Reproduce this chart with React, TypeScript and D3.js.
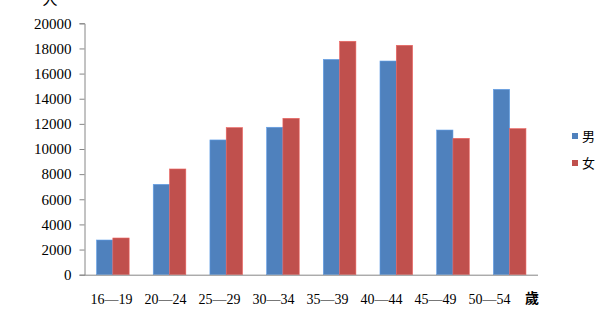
import React, { useEffect, useRef } from "react";
import * as d3 from "d3";

const ageGroups = ["16—19", "20—24", "25—29", "30—34", "35—39", "40—44", "45—49", "50—54"];
const maleValues = [2760, 7190, 10720, 11730, 17130, 17000, 11510, 14750];
const femaleValues = [2920, 8410, 11700, 12440, 18570, 18250, 10850, 11620];
const seriesNames = ["男", "女"];
const seriesColors = ["#4F81BD", "#C0504D"];
const yTicks = [0, 2000, 4000, 6000, 8000, 10000, 12000, 14000, 16000, 18000, 20000];

const W = 609;
const H = 336;

export default function App() {
    const svgRef = useRef<SVGSVGElement>(null);

    useEffect(() => {
        const svg = d3.select(svgRef.current);
        svg.selectAll("*").remove();

        const left = 84.5, right = 538, top = 23.3, bottom = 274.7;
        const serif = "'Liberation Serif', 'DejaVu Serif', serif";
        const cjk = "'Noto Sans CJK SC', 'Noto Sans CJK JP', sans-serif";

        const x = d3.scaleBand<string>()
            .domain(ageGroups)
            .range([left, right])
            .paddingInner(0.425)
            .paddingOuter(0.2125);
        const sub = d3.scaleBand<string>()
            .domain(seriesNames)
            .range([0, x.bandwidth()]);
        const y = d3.scaleLinear().domain([0, 20000]).range([bottom, top]);
        // the category labels sit in their own row, a bit tighter than the bars
        const xLabel = d3.scalePoint<string>().domain(ageGroups).range([111.6, 489.5]);

        // y axis
        const yAxis = d3.axisLeft(y).tickValues(yTicks).tickSize(5).tickPadding(8).tickFormat(d3.format("d"));
        const yg = svg.append("g").attr("transform", `translate(${left},0)`).call(yAxis);
        yg.select(".domain").attr("stroke", "#868686");
        yg.selectAll("line").attr("stroke", "#868686");
        yg.selectAll("text")
            .attr("font-family", serif)
            .attr("font-size", 15)
            .attr("fill", "#000");

        // bars
        const data = [maleValues, femaleValues];
        data.forEach((vals, si) => {
            svg.append("g")
                .selectAll("rect")
                .data(vals)
                .enter().append("rect")
                .attr("x", (d, i) => (x(ageGroups[i]) as number) + (sub(seriesNames[si]) as number))
                .attr("y", d => y(d))
                .attr("width", sub.bandwidth())
                .attr("height", d => bottom - y(d))
                .attr("fill", seriesColors[si])
                .attr("stroke", d3.color(seriesColors[si])!.brighter(0.6).toString())
                .attr("stroke-width", 0.6);
        });

        // x axis line
        svg.append("line")
            .attr("x1", left).attr("x2", right)
            .attr("y1", bottom + 0.5).attr("y2", bottom + 0.5)
            .attr("stroke", "#868686");

        // x labels
        svg.append("g")
            .selectAll("text")
            .data(ageGroups)
            .enter().append("text")
            .attr("x", d => xLabel(d) as number)
            .attr("y", 304)
            .attr("text-anchor", "middle")
            .attr("font-family", serif)
            .attr("font-size", 14)
            .text(d => d);

        svg.append("text")
            .attr("x", 532).attr("y", 303)
            .attr("text-anchor", "middle")
            .attr("font-family", cjk)
            .attr("font-weight", "bold")
            .attr("font-size", 14)
            .text("歲");

        svg.append("text")
            .attr("x", 50).attr("y", 5)
            .attr("text-anchor", "middle")
            .attr("font-family", cjk)
            .attr("font-size", 15)
            .text("人");

        // legend
        const leg = svg.append("g");
        seriesNames.forEach((name, i) => {
            const cy = 136 + i * 27;
            leg.append("rect")
                .attr("x", 572).attr("y", cy - 3)
                .attr("width", 6).attr("height", 6)
                .attr("fill", seriesColors[i]);
            leg.append("text")
                .attr("x", 582).attr("y", cy + 5)
                .attr("font-family", cjk)
                .attr("font-size", 13)
                .text(name);
        });
    }, []);

    return (
        <svg
            ref={svgRef}
            width={W}
            height={H}
            style={{ position: "absolute", left: 0, top: 0, background: "#fff" }}
        />
    );
}
